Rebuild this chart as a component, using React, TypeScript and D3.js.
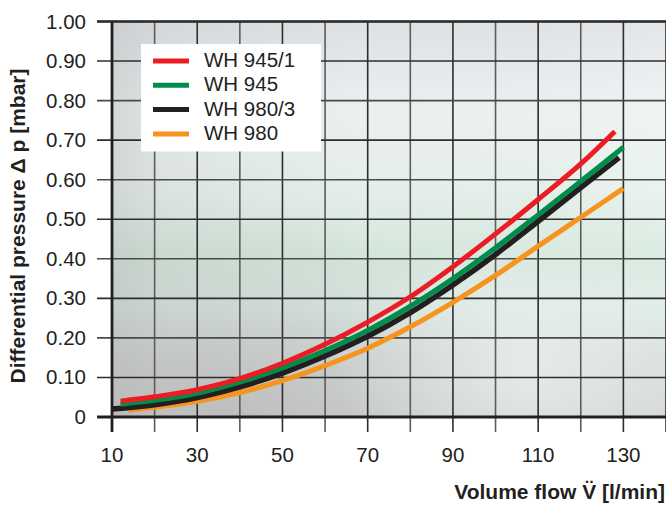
import React from "react";
import * as d3 from "d3";

const W = 666;
const H = 505;

const xTicks = [10, 30, 50, 70, 90, 110, 130];
const xGrid = [10, 20, 30, 40, 50, 60, 70, 80, 90, 100, 110, 120, 130, 140];
const yTicks = [0, 0.1, 0.2, 0.3, 0.4, 0.5, 0.6, 0.7, 0.8, 0.9, 1.0];
const yTickLabels = ["0", "0.10", "0.20", "0.30", "0.40", "0.50", "0.60", "0.70", "0.80", "0.90", "1.00"];

const seriesNames = ["WH 945/1", "WH 945", "WH 980/3", "WH 980"];
const seriesColors = ["#ec1c24", "#008c4a", "#231f20", "#f7941d"];

const redFlow = [12, 20, 30, 40, 50, 60, 70, 80, 90, 100, 110, 120, 128];
const redDp = [0.040, 0.051, 0.069, 0.097, 0.136, 0.184, 0.240, 0.304, 0.380, 0.463, 0.550, 0.640, 0.722];
const greenFlow = [12, 20, 30, 40, 50, 60, 70, 80, 90, 100, 110, 120, 130];
const greenDp = [0.032, 0.042, 0.060, 0.088, 0.124, 0.168, 0.219, 0.280, 0.350, 0.428, 0.511, 0.596, 0.682];
const blackFlow = [10, 20, 30, 40, 50, 60, 70, 80, 90, 100, 110, 120, 129];
const blackDp = [0.020, 0.031, 0.049, 0.076, 0.111, 0.154, 0.204, 0.264, 0.334, 0.411, 0.495, 0.580, 0.656];
const orangeFlow = [14, 20, 30, 40, 50, 60, 70, 80, 90, 100, 110, 120, 130];
const orangeDp = [0.017, 0.025, 0.040, 0.062, 0.092, 0.130, 0.174, 0.228, 0.290, 0.358, 0.432, 0.505, 0.578];

const seriesFlow = [redFlow, greenFlow, blackFlow, orangeFlow];
const seriesDp = [redDp, greenDp, blackDp, orangeDp];

const FONT = "'Liberation Sans', Arial, Helvetica, sans-serif";
const TXT = "#231f20";

export default function App() {
  const left = 112;
  const right = 666;
  const top = 21.5;
  const bottom = 417;
  const x = d3.scaleLinear().domain([10, 140]).range([left, right]);
  const y = d3.scaleLinear().domain([0, 1]).range([bottom, top]);

  const line = d3
    .line<[number, number]>()
    .x((d) => x(d[0]))
    .y((d) => y(d[1]))
    .curve(d3.curveCatmullRom.alpha(0.5));

  const order = [3, 2, 1, 0];

  return (
    <svg
      width={W}
      height={H}
      style={{ position: "absolute", left: 0, top: 0, background: "#fff" }}
    >
      <defs>
        <linearGradient id="bgV" x1="0" y1="0" x2="0" y2="1">
          <stop offset="0" stopColor="#dfe3e6" />
          <stop offset="0.22" stopColor="#eef2f3" />
          <stop offset="0.42" stopColor="#e7f1ec" />
          <stop offset="0.6" stopColor="#d5e9de" />
          <stop offset="0.72" stopColor="#dbeae3" />
          <stop offset="0.84" stopColor="#d4dad8" />
          <stop offset="1" stopColor="#cdd1d0" />
        </linearGradient>
        <linearGradient id="bgH" x1="0" y1="0" x2="1" y2="0">
          <stop offset="0" stopColor="#a0a0a0" stopOpacity="0.32" />
          <stop offset="0.1" stopColor="#a8a8a8" stopOpacity="0.18" />
          <stop offset="0.45" stopColor="#b0b0b0" stopOpacity="0.04" />
          <stop offset="1" stopColor="#ffffff" stopOpacity="0.12" />
        </linearGradient>
        <radialGradient id="bgBL" cx="0.2" cy="1" r="0.55">
          <stop offset="0" stopColor="#a9a7a6" stopOpacity="0.35" />
          <stop offset="1" stopColor="#a9a7a6" stopOpacity="0" />
        </radialGradient>
        <radialGradient id="bgBR" cx="0.75" cy="0.88" r="0.35">
          <stop offset="0" stopColor="#f2f7f6" stopOpacity="0.6" />
          <stop offset="1" stopColor="#f2f7f6" stopOpacity="0" />
        </radialGradient>
      </defs>

      <rect x={left} y={top} width={right - left} height={bottom - top} fill="url(#bgV)" />
      <rect x={left} y={top} width={right - left} height={bottom - top} fill="url(#bgH)" />
      <rect x={left} y={top} width={right - left} height={bottom - top} fill="url(#bgBL)" />
      <rect x={left} y={top} width={right - left} height={bottom - top} fill="url(#bgBR)" />

      {xGrid.map((v) => (
        <line
          key={"gx" + v}
          x1={x(v)}
          x2={x(v)}
          y1={top}
          y2={bottom + 15}
          stroke={xTicks.includes(v) || v === 140 ? "#2e2e2e" : "#5c5c5c"}
          strokeWidth={1.6}
        />
      ))}
      {yTicks.map((v, i) => (
        <line
          key={"gy" + v}
          x1={left - 15}
          x2={right}
          y1={y(v)}
          y2={y(v)}
          stroke={i % 2 === 1 ? "#2e2e2e" : "#4a4a4a"}
          strokeWidth={1.6}
        />
      ))}

      <line x1={left - 15} x2={right} y1={top} y2={top} stroke="#2a2a2a" strokeWidth={2.6} />
      <line x1={left - 15} x2={right} y1={bottom} y2={bottom} stroke="#231f20" strokeWidth={3} />
      <line x1={left} x2={left} y1={top} y2={bottom + 15} stroke="#231f20" strokeWidth={2.8} />

      {order.map((si) => (
        <path
          key={"s" + si}
          d={line(seriesFlow[si].map((f, j) => [f, seriesDp[si][j]] as [number, number])) || ""}
          fill="none"
          stroke={seriesColors[si]}
          strokeWidth={si === 2 ? 5.5 : 5}
          strokeLinecap="butt"
        />
      ))}

      <rect x={141} y={44} width={180} height={107.5} fill="#ffffff" />
      {seriesNames.map((n, i) => (
        <g key={"lg" + i}>
          <line
            x1={153}
            x2={189}
            y1={61 + i * 24.3}
            y2={61 + i * 24.3}
            stroke={seriesColors[i]}
            strokeWidth={5}
          />
          <text x={204} y={67 + i * 24.3} fontFamily={FONT} fontSize={20.5} fill={TXT}>
            {n}
          </text>
        </g>
      ))}

      {yTicks.map((v, i) => (
        <text
          key={"yl" + v}
          x={86}
          y={y(v) + 7}
          textAnchor="end"
          fontFamily={FONT}
          fontSize={20.5}
          fill={TXT}
        >
          {yTickLabels[i]}
        </text>
      ))}

      {xTicks.map((v) => (
        <text
          key={"xl" + v}
          x={x(v)}
          y={461.5}
          textAnchor="middle"
          fontFamily={FONT}
          fontSize={20.5}
          fill={TXT}
        >
          {v}
        </text>
      ))}

      <text
        x={665}
        y={499}
        textAnchor="end"
        fontFamily={FONT}
        fontSize={21}
        fontWeight="bold"
        fill={TXT}
      >
        Volume flow V̈ [l/min]
      </text>
      <text
        transform="translate(25,226) rotate(-90)"
        textAnchor="middle"
        fontFamily={FONT}
        fontSize={21}
        fontWeight="bold"
        fill={TXT}
      >
        Differential pressure Δ p [mbar]
      </text>
    </svg>
  );
}
